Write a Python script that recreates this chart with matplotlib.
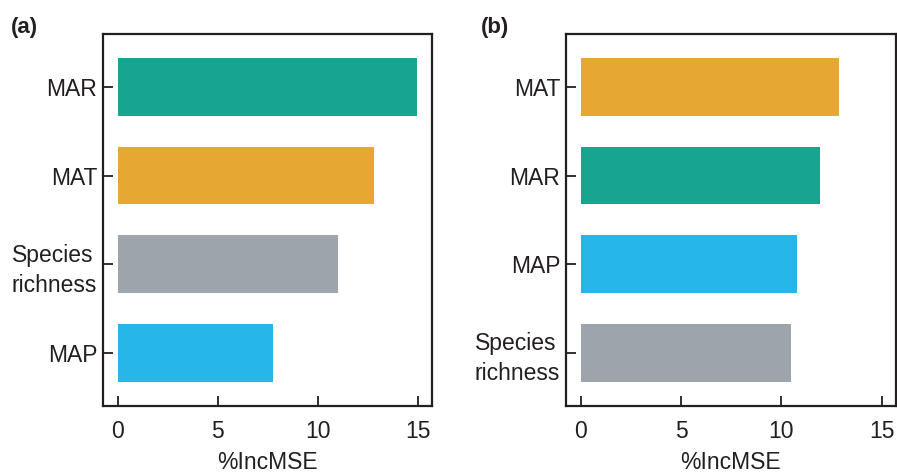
import matplotlib.pyplot as plt

plt.rcParams['font.family'] = ['Liberation Sans', 'DejaVu Sans']

# variable importance (%IncMSE), listed top to bottom
labels_a = ['MAR', 'MAT', 'Species\nrichness', 'MAP']
values_a = [14.95, 12.8, 11.0, 7.75]

labels_b = ['MAT', 'MAR', 'MAP', 'Species\nrichness']
values_b = [12.85, 11.9, 10.8, 10.5]

colors = {
    'MAR': '#17a590',
    'MAT': '#e6a832',
    'Species\nrichness': '#9ea4ab',
    'MAP': '#27b6e8',
}

ink = '#231f20'


def importance_panel(ax, labels, values):
    pos = list(range(len(labels)))
    ax.barh(pos, values, height=0.65, color=[colors[l] for l in labels])
    ax.set_ylim(len(labels) - 0.4, -0.6)
    ax.set_xlim(-0.75, 15.7)
    ax.set_xticks([0, 5, 10, 15])
    ax.set_yticks(pos)
    ax.set_yticklabels(labels, multialignment='left', linespacing=1.4)
    ax.tick_params(axis='both', direction='in', length=7, width=1.3,
                   color=ink, labelcolor=ink, labelsize=16.5)
    ax.tick_params(axis='x', pad=10)
    ax.tick_params(axis='y', pad=4)
    for s in ax.spines.values():
        s.set_linewidth(1.6)
        s.set_color(ink)
    ax.set_xlabel('%IncMSE', fontsize=16.5, color=ink, labelpad=6)
    return ax


fig = plt.figure(figsize=(8.97, 4.75), dpi=100)
ax_a = fig.add_axes([0.1145, 0.1453, 0.3671, 0.7838])
ax_b = fig.add_axes([0.6307, 0.1453, 0.3679, 0.7838])

importance_panel(ax_a, labels_a, values_a)
importance_panel(ax_b, labels_b, values_b)

fig.text(0.012, 0.93, '(a)', fontsize=16, fontweight='bold', color=ink)
fig.text(0.536, 0.93, '(b)', fontsize=16, fontweight='bold', color=ink)

fig.savefig('out.png', dpi=100)
